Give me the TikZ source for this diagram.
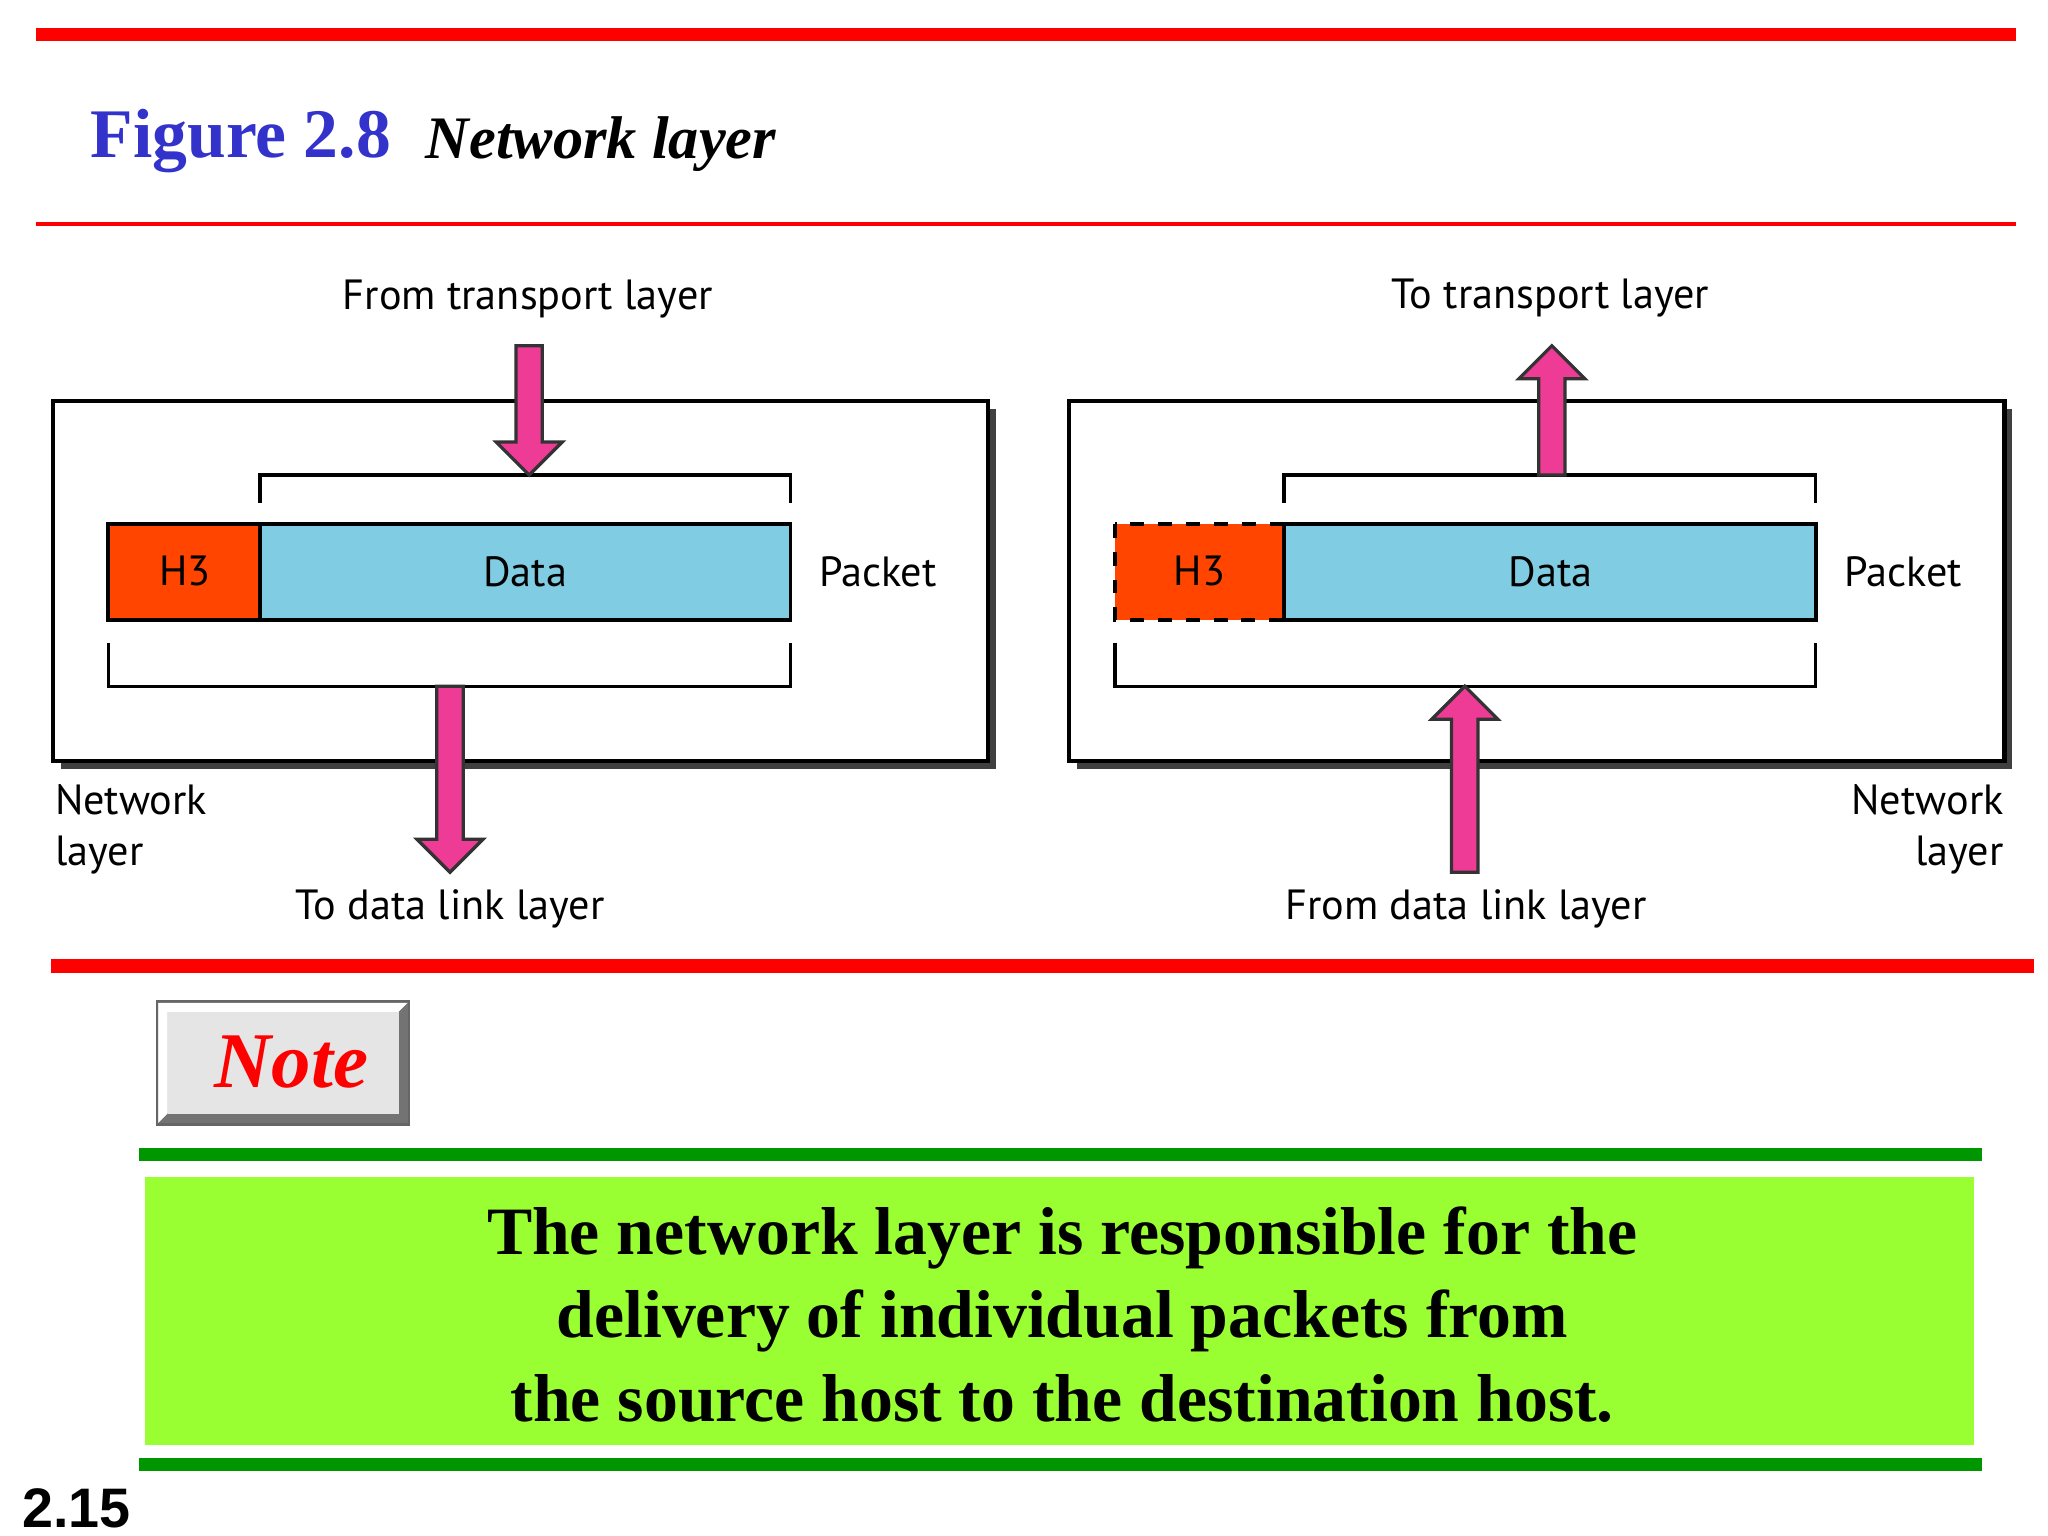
\documentclass[tikz,border=0pt]{standalone}
\usepackage{fontspec}
\setmainfont{Liberation Serif}
\newfontfamily\lab{PT Sans}
\newfontfamily\hsans{Liberation Sans}
\begin{document}
\begin{tikzpicture}[x=0.01cm,y=-0.01cm,
  lbl/.style={font=\lab\fontsize{9.1pt}{11pt}\selectfont,inner sep=0},
  box/.style={draw=black,line width=0.9pt,fill=white},
  hdr/.style={draw=black,line width=0.8pt,fill=hcol},
  dat/.style={draw=black,line width=0.8pt,fill=dcol},
  brk/.style={draw=black,line width=0.7pt},
  ar/.style={draw=black!80,line width=0.7pt,fill=acol,line join=miter}]
\definecolor{hcol}{RGB}{255,69,0}
\definecolor{dcol}{RGB}{127,204,227}
\definecolor{acol}{RGB}{238,60,150}
\definecolor{gline}{RGB}{0,150,0}
\definecolor{gbox}{RGB}{153,255,51}
\definecolor{tblue}{RGB}{51,51,204}
\useasboundingbox (0,0) rectangle (1552,1164);
\newcommand\myDnArrow[3]{\path[ar] (#1-10,#2) -- (#1+10,#2) -- (#1+10,#3-25) -- (#1+25,#3-25) -- (#1,#3) -- (#1-25,#3-25) -- (#1-10,#3-25) -- cycle;}
\newcommand\myUpArrow[3]{\path[ar] (#1-10,#2) -- (#1+10,#2) -- (#1+10,#3+25) -- (#1+25,#3+25) -- (#1,#3) -- (#1-25,#3+25) -- (#1-10,#3+25) -- cycle;}
% lines
\fill[red] (27,21) rectangle (1528,31);
\fill[red] (27,168) rectangle (1528,171);
\node[anchor=west,inner sep=0,text=tblue,font=\bfseries\fontsize{15pt}{18pt}\selectfont] (fig) at (68,107) {Figure 2.8};
\node[anchor=west,inner sep=0,font=\bfseries\itshape\fontsize{13pt}{16pt}\selectfont] (ttl) at (322,109) {Network layer};
% left box
\fill[black!75] (46,310) rectangle (755,583);
\path[box] (40,304) rectangle (749,577);
\path[hdr] (82,397) rectangle (197,470);
\path[dat] (197,397) rectangle (599,470);
\node[lbl] (h3a) at (140,433) {H3};
\node[lbl] (da) at (398,433) {Data};
\node[lbl,anchor=west] (pa) at (620,433) {Packet};
\draw[brk] (197,381) -- (197,360) -- (599,360) -- (599,381);
\draw[brk] (82,487) -- (82,520) -- (599,520) -- (599,487);
\myDnArrow{401}{262}{360}
\myDnArrow{341}{520}{661}
\node[lbl] (ft) at (400,227) {From transport layer};
\node[lbl] (tdl) at (341,689) {To data link layer};
\node[lbl,anchor=north west,align=left] (nl1) at (41,594) {Network\\layer};
% right box
\fill[black!75] (816,310) rectangle (1525,583);
\path[box] (810,304) rectangle (1519,577);
\path[hdr,dashed] (845,397) rectangle (973,470);
\path[dat] (973,397) rectangle (1376,470);
\node[lbl] (h3b) at (909,433) {H3};
\node[lbl] (db) at (1175,433) {Data};
\node[lbl,anchor=west] (pb) at (1397,433) {Packet};
\draw[brk] (973,381) -- (973,360) -- (1376,360) -- (1376,381);
\draw[brk] (845,487) -- (845,520) -- (1376,520) -- (1376,487);
\myUpArrow{1176}{360}{262}
\myUpArrow{1110}{661}{520}
\node[lbl] (tt) at (1175,226) {To transport layer};
\node[lbl] (fdl) at (1111,689) {From data link layer};
\node[lbl,anchor=north east,align=right] (nl2) at (1519,594) {Network\\layer};
% separator
\fill[red] (39,727) rectangle (1541,737);
% note button
\fill[black!60] (118,758) rectangle (311,853);
\fill[black!25] (120,760) rectangle (309,851);
\fill[white] (120,760) -- (309,760) -- (302,767) -- (127,767) -- (127,844) -- (120,851) -- cycle;
\fill[black!55] (309,760) -- (309,851) -- (120,851) -- (127,844) -- (302,844) -- (302,767) -- cycle;
\fill[black!10] (127,767) rectangle (302,844);
\node[inner sep=0,text=red,font=\bfseries\itshape\fontsize{17pt}{20pt}\selectfont] (note) at (221,805) {Note};
% green
\fill[gline] (105,870) rectangle (1502,880);
\fill[gline] (105,1105) rectangle (1502,1115);
\fill[gbox] (110,892) rectangle (1496,1095);
\node[inner sep=0,align=center,font=\bfseries\fontsize{14.6pt}{18pt}\selectfont] (txt) at (805,996)
  {The network layer is responsible for the\\delivery of individual packets from\\the source host to the destination host.};
\node[anchor=west,inner sep=0,font=\hsans\bfseries\fontsize{12pt}{14pt}\selectfont] (pg) at (16,1143) {2.15};
\end{tikzpicture}
\end{document}
